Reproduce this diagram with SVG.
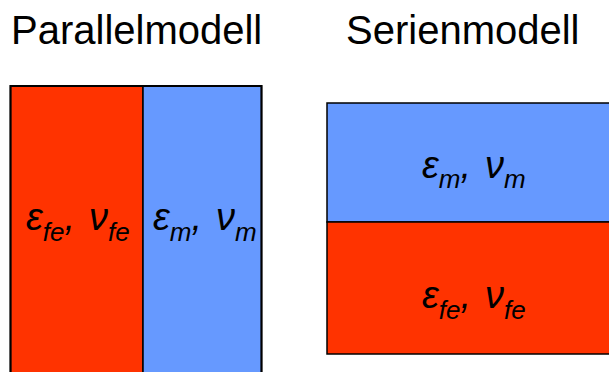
<svg xmlns="http://www.w3.org/2000/svg" width="609" height="372" viewBox="0 0 609 372">
<style>
.title{font-family:"Liberation Sans",Arial,sans-serif;font-size:40px;fill:#000}
.lbl{font-family:"Liberation Sans",Arial,sans-serif;font-style:italic;font-size:38px;fill:#000}
.sub{font-size:26px}
.red{fill:#FF3300;stroke:#000;stroke-width:1.5}
.blue{fill:#6699FF;stroke:#000;stroke-width:1.5}
.frame{fill:none;stroke:#000;stroke-width:2}
</style>
<rect width="609" height="372" fill="#fff"/>
<g id="title-parallel"><text class="title" x="11" y="44">Parallelmodell</text></g>
<g id="title-serien"><text class="title" x="346" y="44">Serienmodell</text></g>
<g id="parallel-fe">
<rect class="red" x="10.5" y="86" width="132.5" height="300"/>
<text class="lbl" x="26" y="230">ε<tspan class="sub" dy="11">fe</tspan><tspan dy="-11">,</tspan><tspan dx="14">ν</tspan><tspan class="sub" dy="11">fe</tspan></text>
</g>
<g id="parallel-m">
<rect class="blue" x="143" y="86" width="118.5" height="300"/>
<text class="lbl" x="153" y="230">ε<tspan class="sub" dy="11">m</tspan><tspan dy="-11">,</tspan><tspan dx="14">ν</tspan><tspan class="sub" dy="11">m</tspan></text>
</g>
<rect class="frame" x="10.5" y="86" width="251" height="300"/>
<g id="serien-m">
<rect class="blue" x="327" y="103" width="300" height="119"/>
<text class="lbl" x="422" y="178">ε<tspan class="sub" dy="10">m</tspan><tspan dy="-10">,</tspan><tspan dx="14">ν</tspan><tspan class="sub" dy="10">m</tspan></text>
</g>
<g id="serien-fe">
<rect class="red" x="327" y="222" width="300" height="132"/>
<text class="lbl" x="422" y="308">ε<tspan class="sub" dy="11">fe</tspan><tspan dy="-11">,</tspan><tspan dx="14">ν</tspan><tspan class="sub" dy="11">fe</tspan></text>
</g>
<g id="connectors"/>
</svg>
